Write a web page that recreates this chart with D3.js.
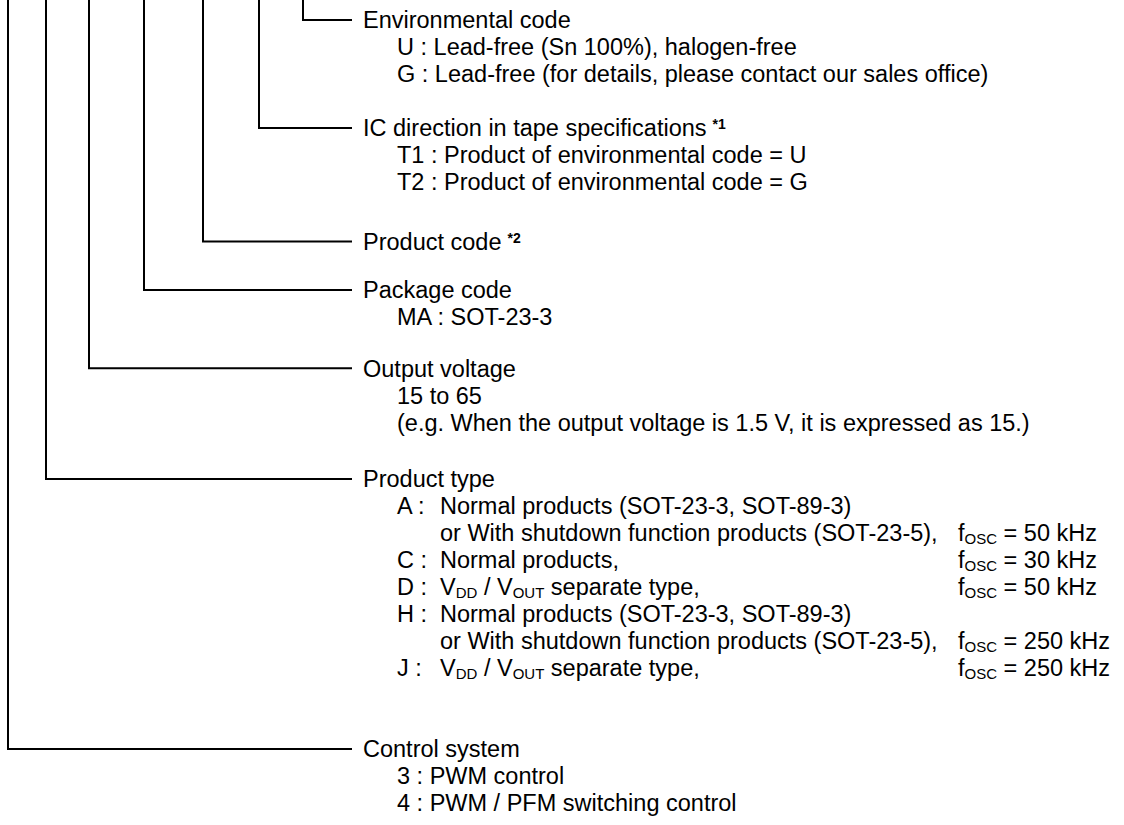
<!DOCTYPE html>
<html>
<head>
<meta charset="utf-8">
<script src="https://cdn.jsdelivr.net/npm/d3@7"></script>
<style>
  body { margin: 0; background: #fff; }
  text { font-family: Arial, "Liberation Sans", sans-serif; font-size: 23.5px; fill: #000; }
</style>
</head>
<body>
<script>
// code fields, in the order they appear from top to bottom
const fieldNames = [
  "Environmental code",
  "IC direction in tape specifications",
  "Product code",
  "Package code",
  "Output voltage",
  "Product type",
  "Control system"
];
const fieldNotes = ["", "*1", "*2", "", "", "", ""];
// text line (row) on which each field header sits
const fieldRows = [0, 4, 8.2, 10, 12.9, 17, 27];

// plain sub lines of each field (same index as fieldNames)
const fieldItems = [
  ["U : Lead-free (Sn 100%), halogen-free",
   "G : Lead-free (for details, please contact our sales office)"],
  ["T1 : Product of environmental code = U",
   "T2 : Product of environmental code = G"],
  [],
  ["MA : SOT-23-3"],
  ["15 to 65",
   "(e.g. When the output voltage is 1.5 V, it is expressed as 15.)"],
  [],
  ["3 : PWM control",
   "4 : PWM / PFM switching control"]
];

// product type table
const typeCodes = ["A", "", "C", "D", "H", "", "J"];
const typeDescs = [
  "Normal products (SOT-23-3, SOT-89-3)",
  "or With shutdown function products (SOT-23-5),",
  "Normal products,",
  "V_{DD} / V_{OUT} separate type,",
  "Normal products (SOT-23-3, SOT-89-3)",
  "or With shutdown function products (SOT-23-5),",
  "V_{DD} / V_{OUT} separate type,"
];
const typeFreqs = ["", 50, 30, 50, "", 250, 250];

const width = 1124, height = 825;

// layout
const stemX = [303, 259, 203, 144, 89, 46, 8];
const lineEnd = 352, textX = 363, itemX = 397, descX = 440, freqX = 958;

const y = d3.scaleLinear().domain([0, 29]).range([20, 803]);

const svg = d3.select("body").append("svg")
  .attr("width", width)
  .attr("height", height);

// write a string with _{...} subscripts into a text element
const rich = (sel, str) => {
  str.split(/(_\{[^}]*\})/).filter(s => s).forEach(part => {
    if (part.startsWith("_{")) {
      sel.append("tspan").attr("baseline-shift", "-22%").attr("font-size", "15px").text(part.slice(2, -1));
    } else {
      sel.append("tspan").text(part);
    }
  });
};

// leader lines
svg.append("g")
  .selectAll("path")
  .data(fieldNames)
  .enter().append("path")
  .attr("d", (d, i) => `M${stemX[i]},0V${y(fieldRows[i])}H${lineEnd}`)
  .attr("fill", "none")
  .attr("stroke", "#000")
  .attr("stroke-width", 2);

// headers
const heads = svg.append("g")
  .selectAll("text")
  .data(fieldNames)
  .enter().append("text")
  .attr("x", textX)
  .attr("y", (d, i) => y(fieldRows[i]))
  .attr("dy", "0.35em");
heads.append("tspan").text(d => d);
heads.append("tspan")
  .attr("dx", 6)
  .attr("baseline-shift", "50%")
  .attr("font-size", "14px")
  .attr("font-weight", "bold")
  .text((d, i) => fieldNotes[i]);

// plain sub lines
fieldItems.forEach((items, i) => {
  svg.append("g")
    .selectAll("text")
    .data(items)
    .enter().append("text")
    .attr("x", itemX)
    .attr("y", (d, j) => y(fieldRows[i] + 1 + j))
    .attr("dy", "0.35em")
    .text(d => d);
});

// product type rows
const typeRow = fieldRows[5] + 1;
const tg = svg.append("g");
typeDescs.forEach((d, j) => {
  const yy = y(typeRow + j);
  if (typeCodes[j]) {
    tg.append("text").attr("x", itemX).attr("y", yy).attr("dy", "0.35em").text(typeCodes[j] + " :");
  }
  const t = tg.append("text")
    .attr("x", descX)
    .attr("y", yy).attr("dy", "0.35em");
  rich(t, d);
  if (typeFreqs[j] !== "") {
    const f = tg.append("text").attr("x", freqX).attr("y", yy).attr("dy", "0.35em");
    rich(f, `f_{OSC} = ${typeFreqs[j]} kHz`);
  }
});
</script>
</body>
</html>
